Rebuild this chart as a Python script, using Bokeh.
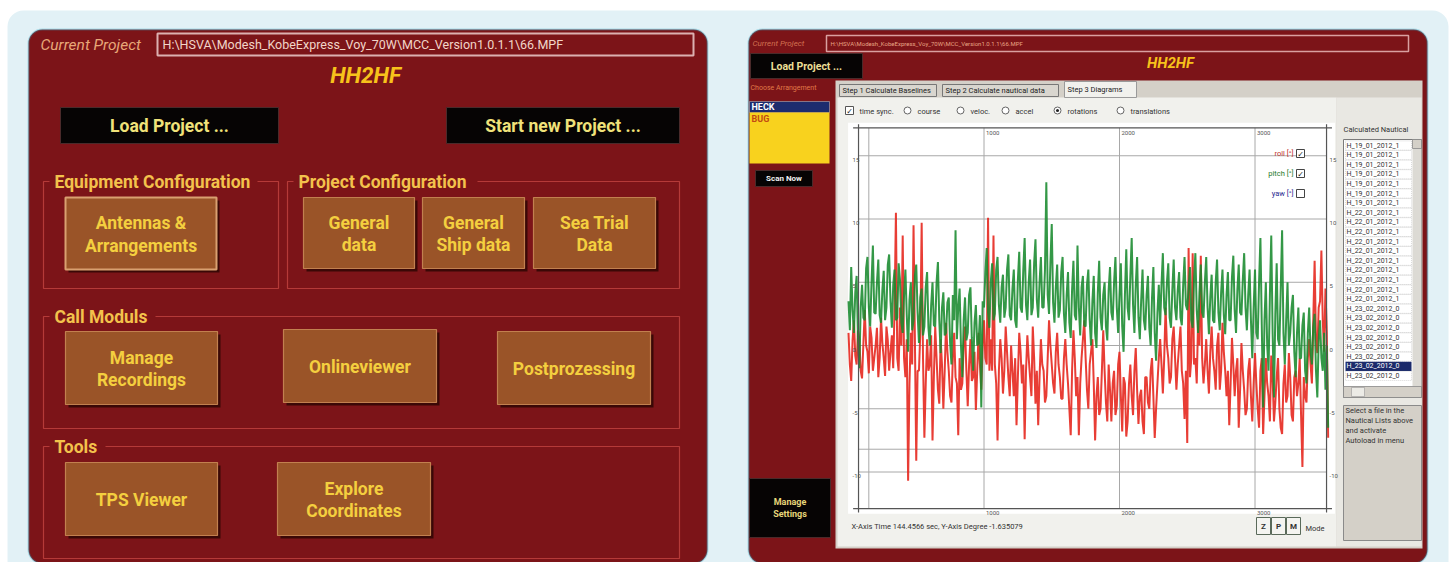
from bokeh.plotting import figure
from bokeh.models import Range1d, BoxAnnotation
from bokeh.core.properties import value
from bokeh.embed import file_html
from bokeh.resources import INLINE

# ---------------- data ----------------
SAMPLE_STEP_S = 10
time_s = list(range(0, 3541, SAMPLE_STEP_S))  # sample times of the recording

pitch_deg = [
    3.5, 1.2, 6.2, 2.8, 1.0, 4.2, 5.5, 0.6, -1.8, 3.0,
    4.8, 2.2, 2.0, 6.1, 7.0, 3.0, 1.5, 5.0, 7.9, 2.6,
    2.5, 5.0, 6.8, 2.4, 1.8, 4.4, 5.9, 2.0, 3.0, 6.4,
    7.2, 3.5, 1.4, 4.8, 6.0, 2.0, 2.2, 6.5, 5.2, 1.8,
    1.0, 4.0, 6.0, 2.4, -0.5, 3.6, 5.0, 1.2, 2.0, 5.5,
    6.4, 2.6, 0.2, 3.8, 4.5, 0.8, 1.5, 4.6, 5.8, 1.4,
    0.0, 3.2, 5.0, 1.6, 1.5, 5.0, 6.6, 2.0, -0.6, 3.0,
    4.2, 0.8, 1.0, 3.4, 3.8, 0.2, -1.5, 4.0, 2.0, 9.1,
    0.5, 3.0, 4.5, 0.0, -2.5, 2.0, 3.8, 0.4, 1.0, 4.0,
    4.6, 0.6, -2.0, 1.8, 3.2, 0.0, 0.2, 2.4, -4.9, 3.5,
    3.0, 5.8, 7.7, 2.6, 1.4, 5.0, 6.5, 2.0, 2.5, 6.0,
    7.0, 3.2, 1.8, 4.6, 5.6, 2.2, 3.0, 6.0, 7.2, 2.4,
    2.0, 4.5, 6.0, 2.0, 1.4, 5.2, 7.4, 3.0, 2.6, 6.0,
    8.5, 3.2, 2.0, 5.0, 6.8, 2.4, 3.0, 6.5, 8.4, 3.6,
    2.2, 5.0, 7.0, 3.0, 3.0, 6.0, 12.9, 4.0, 2.5, 6.5,
    9.6, 3.4, 1.8, 4.6, 6.4, 2.2, 2.8, 5.8, 7.0, 2.5,
    1.0, 4.0, 5.8, 1.8, 0.6, 4.4, 6.7, 2.4, 2.0, 7.9,
    3.0, 0.8, 4.6, 5.5, 1.6, 1.5, 4.8, 6.0, 2.0, 0.0,
    3.5, 5.5, 1.0, -0.2, 4.2, 6.7, 2.2, 1.2, 4.0, 5.0,
    1.5, 0.4, 4.4, 6.2, 2.6, 2.0, 5.0, 7.0, 3.0, 1.0,
    4.0, 6.5, 1.5, -0.5, 4.0, 7.6, 3.0, 2.0, 5.5, 8.5,
    3.2, 1.0, 4.8, 7.0, 2.2, 0.5, 3.6, 6.0, 2.0, 1.2,
    4.0, 5.5, 1.4, 0.0, 3.8, 6.2, 1.0, -1.2, 2.6, 4.8,
    1.6, 4.8, 7.3, 3.0, 2.4, 5.0, 6.5, 2.2, 1.4, 4.4,
    6.8, 3.0, 2.0, 4.4, 5.8, 2.2, 1.6, 4.8, 7.0, 3.2,
    2.8, 4.6, 6.2, 2.0, 1.4, 5.2, 7.3, 2.8, 1.0, 4.2,
    6.4, 2.6, 2.2, 5.0, 7.0, 3.0, 0.9, 3.8, 5.6, 2.0,
    1.8, 5.0, 6.8, 2.6, 1.2, 4.2, 6.0, 2.4, 0.9, 4.0,
    5.8, 2.0, 2.0, 5.4, 7.1, 2.8, 1.0, 4.4, 6.4, 2.6,
    2.4, 5.2, 7.3, 3.0, 1.2, 4.0, 6.0, 2.0, -1.0, 3.0,
    6.0, 1.0, 0.5, 5.0, 8.5, 1.6, -4.9, 2.0, 5.0, 0.0,
    -2.0, 4.0, 8.7, 1.0, -4.1, 2.5, 6.5, 0.5, 0.0, 4.5,
    9.1, 1.0, -1.5, 2.0, 5.0, 0.0, 1.0, 3.0, 4.0, -0.5,
    -2.5, 1.0, 3.0, -1.0, -1.0, 1.6, 2.6, -2.0, -3.0, 1.0,
    3.0, -0.5, -1.5, 1.5, 2.5, -2.0, -4.1, 0.5, 2.0, -1.0,
    -2.0, 1.0, -3.5, 0.0, -6.5,
]

roll_deg = [
    1.0, -1.5, -2.8, 0.4, 2.0, -0.8, -1.5, 1.2, 0.5, -2.0,
    -2.6, 0.2, 2.8, 0.0, -0.5, -2.2, 1.5, 0.6, -2.0, -1.0,
    0.0, 1.4, -2.5, -1.0, 2.2, 0.2, -1.0, -2.4, 1.5, 0.4,
    -2.0, -0.5, 0.8, -1.8, 3.0, 10.5, -1.0, -2.0, 3.0, 0.0,
    8.7, -1.0, -2.5, 0.5, -10.7, -3.0, 1.0, -1.5, 9.5, 0.5,
    -9.1, -2.0, -2.0, 1.0, 9.7, -1.0, -7.3, -3.0, 0.5, -2.0,
    -1.5, 0.8, -7.5, -2.5, 1.5, -1.0, -3.5, -4.6, 0.5, -1.5,
    -5.0, -2.0, 1.8, -0.5, -2.0, -4.0, -4.5, -1.0, 1.0, -2.5,
    -3.0, -7.1, -1.0, -3.5, -3.0, 0.0, 1.5, -2.0, -4.8, -1.5,
    0.5, -2.8, -2.5, -0.5, -5.1, -2.0, 1.0, -1.5, -3.5, 0.0,
    2.0, -1.0, -1.5, 10.1, -2.0, 0.5, -2.0, 8.7, -1.5, -3.0,
    -7.5, -2.0, 0.5, -1.0, -3.8, -2.0, 1.5, -0.5, -2.5, -4.0,
    0.0, -2.0, -4.0, -1.0, -6.3, -2.5, 1.0, -0.5, -3.0, -1.5,
    -7.4, -2.0, 0.8, -1.0, -2.5, -4.0, 1.5, -1.0, -4.6, -2.0,
    -6.3, -2.5, 0.5, -1.5, -2.0, -4.5, -4.0, -1.0, 2.0, 0.0,
    -1.5, -3.0, -3.8, -0.5, 1.0, -1.5, -2.5, -4.2, -4.2, -1.0,
    0.5, -1.5, -3.0, -5.0, -7.1, -2.0, 1.2, -1.0, -4.0, -2.5,
    -7.1, -3.0, -1.0, 0.5, 2.0, -1.0, -3.5, -5.0, -1.5, -0.5,
    0.5, -3.0, -7.5, -4.0, -2.5, -5.5, -5.0, -2.0, 1.2, -2.0,
    -4.5, -6.0, -1.5, -3.5, -6.0, -3.0, -2.0, -5.5, -4.8, -1.5,
    -0.5, -4.0, -6.8, -2.5, -3.0, -7.2, -6.0, -3.0, -1.5, -4.0,
    -5.5, -2.0, -0.2, -3.5, -6.2, -4.0, -3.5, -6.0, -7.0, -2.5,
    -2.5, -4.5, -5.0, -2.0, -1.0, -4.0, -7.3, -5.0, -3.0, -1.0,
    0.5, -1.5, -3.8, -1.0, 3.0, 0.0, -1.0, -3.0, -2.5, 0.5,
    1.5, -1.0, -3.5, -1.5, 0.0, 1.5, -2.0, -3.0, -5.8, -2.0,
    -7.7, 7.7, -2.5, -1.0, 7.3, -1.5, -1.0, -3.0, 2.0, 0.0,
    7.1, -1.0, -3.0, -1.5, 0.5, -2.0, -3.8, -0.5, 1.5, -1.0,
    -2.0, -3.5, 0.0, 1.0, -3.5, -2.0, 1.8, -0.5, -2.0, -4.0,
    -2.0, -6.3, -3.0, 0.6, -1.5, -4.0, -2.0, -1.0, -6.5, -3.5,
    0.2, -2.0, -3.5, -5.5, -5.0, -2.0, -1.0, -4.0, -6.0, -3.0,
    -0.6, -3.0, -5.0, -6.5, -2.0, -1.0, -7.0, -4.0, -1.0, -3.0,
    -4.0, -6.0, -0.8, -2.5, -6.0, -4.5, -2.5, -1.0, -5.0, -6.5,
    -7.0, -3.0, -1.5, -4.5, -4.0, -0.6, -2.5, -5.5, -6.0, -2.5,
    -2.0, -4.0, -3.0, -1.0, -5.5, -9.6, -2.5, -4.0, -4.5, -1.0,
    0.5, -1.5, -3.0, 2.0, 6.7, 0.5, -0.6, 3.0, 3.5, 7.5,
    2.0, -0.5, 4.5, 1.0, -7.3,
]

time_ticks = [1000, 2000, 3000]
time_tick_labels = ["1000", "2000", "3000"]
time_grid = [150, 1000, 2000, 3000]
deg_grid = [15, 10, 5, 0, -5, -8.2, -10]
deg_ticks = [15, 10, 5, 0, -5, -10]
deg_tick_labels = ["15", "10", "5", "0", "-5", "-10"]

legend_names = ["roll [\u00b0]", "pitch [\u00b0]", "yaw [\u00b0]"]
legend_checked = [True, True, False]

project_path = "H:\\HSVA\\Modesh_KobeExpress_Voy_70W\\MCC_Version1.0.1.1\\66.MPF"
nautical_files = (["H_19_01_2012_1"] * 7 + ["H_22_01_2012_1"] * 10 + ["H_23_02_2012_0"] * 8)
selected_file = 23
radio_labels = ["time sync.", "course", "veloc.", "accel", "rotations", "translations"]
tab_labels = ["Step 1 Calculate Baselines", "Step 2 Calculate nautical data", "Step 3 Diagrams"]

# ---------------- figure: one pixel per unit, screenshot coordinates ----------------
X0, Y0, W, H = 0, 0, 1454, 562
p = figure(width=W, height=H, x_range=Range1d(X0, X0 + W), y_range=Range1d(Y0 + H, Y0),
           output_backend="svg", toolbar_location=None, min_border=0,
           x_axis_location=None, y_axis_location=None)
p.grid.visible = False
p.outline_line_color = None
p.background_fill_color = "white"
p.border_fill_color = "white"

# chart coordinate system (time in s, angle in degrees) mapped onto the same frame
T0_PX, T_SCALE = 848.0, 0.1355      # px of t=0, px per second
V0_PX, V_SCALE = 345.0, 12.65       # px of 0 deg, px per degree
p.extra_x_ranges = {"t": Range1d((X0 - T0_PX) / T_SCALE, (X0 + W - T0_PX) / T_SCALE)}
p.extra_y_ranges = {"v": Range1d((V0_PX - (Y0 + H)) / V_SCALE, (V0_PX - Y0) / V_SCALE)}

FONT = value("Roboto")

RED = "#7c1418"
CYAN = "#22a9c6"


def panel(l, r, t, b, fill, line=None, lw=0, radius=0):
    p.add_layout(BoxAnnotation(left=l, right=r, top=t, bottom=b, fill_color=fill, fill_alpha=1,
                               line_color=line, line_width=lw, border_radius=radius, level="underlay"))


def box(l, r, t, b, fill, line=None, lw=1, **kw):
    p.quad(left=l, right=r, top=t, bottom=b, fill_color=fill, line_color=line, line_width=lw, **kw)


def txt(x, y, s, size, color, align="left", style="normal", font=FONT, baseline="middle", **kw):
    p.text(x=[x], y=[y], text=[s], text_font=font, text_font_size=f"{size}px", text_color=color,
           text_align=align, text_baseline=baseline, text_font_style=style, text_line_height=1.12, **kw)


def brown_button(l, r, t, b, label, highlight=False):
    box(l + 3, r + 3, t + 3, b + 3, "#3a0806", None)
    box(l, r, t, b, "#9a5428", "#d9a070" if highlight else "#c2804f", 2 if highlight else 1.2)
    txt((l + r) / 2, (t + b) / 2 + 1, label, 17.5, "#f4cf3f", align="center", style="bold")


def black_button(l, r, t, b, label, size, color):
    box(l, r, t, b, "#060404", "#4a2a2a", 1)
    txt((l + r) / 2, (t + b) / 2, label, size, color, align="center", style="bold")


def group(l, r, t, b, label, label_w):
    box(l, r, t, b, None, "#b53a38", 1.2, fill_alpha=0)
    box(l + 6, l + 14 + label_w, t - 9, t + 9, RED, None)
    txt(l + 11, t, label, 17.5, "#f3c24c", style="bold")


# background and panels
panel(7, 1448, 10, 700, "#e2f1f6", radius=16)
panel(28, 707, 29, 563, RED, CYAN, 2, 14)
panel(748, 1427, 29, 563, RED, CYAN, 2, 14)

# ---------------- left panel ----------------
txt(40, 44, "Current Project", 15.5, "#e8a878", style="italic")
box(157, 693, 33, 55, RED, "#dcb0b0", 2)
txt(162, 44, project_path, 12.5, "#f2d6c8")
txt(365, 74, "HH2HF", 22.5, "#f7c21b", align="center", style="bold italic")
black_button(60, 278, 107, 143, "Load Project ...", 17.5, "#f0e27a")
black_button(446, 679, 107, 143, "Start new Project ...", 17.5, "#f0e27a")

group(43, 278, 181, 288, "Equipment Configuration", 200)
group(287, 679, 181, 288, "Project Configuration", 176)
group(43, 679, 316, 428, "Call Moduls", 98)
group(43, 679, 446, 558, "Tools", 48)

brown_button(65, 216, 197, 269, "Antennas &\nArrangements", highlight=True)
brown_button(303, 414, 197, 268, "General\ndata")
brown_button(422, 524, 197, 268, "General\nShip data")
brown_button(533, 655, 197, 268, "Sea Trial\nData")
brown_button(65, 217, 331, 404, "Manage\nRecordings")
brown_button(283, 436, 329, 402, "Onlineviewer")
brown_button(497, 650, 331, 404, "Postprozessing")
brown_button(65, 217, 462, 535, "TPS Viewer")
brown_button(277, 430, 462, 535, "Explore\nCoordinates")

# ---------------- right panel ----------------
txt(752, 43, "Current Project", 8, "#d27050", style="italic")
box(826, 1408, 35, 51, RED, "#d9a0a0", 1.5)
txt(830, 43, project_path, 6, "#e9a585")
black_button(750, 862, 53, 78, "Load Project ...", 10.5, "#ecdf96")
txt(1170, 62, "HH2HF", 15, "#f7c21b", align="center", style="bold italic")

# left column
txt(750, 87, "Choose Arrangement", 7, "#e07a48")
box(749, 829, 101, 112, "#1d2c6e", "#c8c8c8", 0.5)
txt(751, 106.5, "HECK", 9, "white", style="bold")
box(749, 829, 112, 163, "#f8d21e", None)
txt(751, 118, "BUG", 9, "#c24a12", style="bold")
black_button(755, 812, 170, 186, "Scan Now", 8, "#f0f0f0")
black_button(749, 830, 478, 537, "Manage\nSettings", 9, "#e6d67a")

# gray work area and tabs
box(835, 1422, 80, 548, "#d4d0c8", None)
box(837, 1336, 97, 546, "#f1f1ed", None)
box(1336, 1421, 97, 546, "#e9e8e3", None)
tab_x = [(839, 936), (942, 1058), (1064, 1136)]
for i, (a, b) in enumerate(tab_x):
    if i == 2:
        box(a, b, 81, 97, "#f1f1ed", "#9a9a9a", 1)
    else:
        box(a, b, 84, 96, "#d9d6cf", "#777777", 1)
    txt(a + 3, 90 if i < 2 else 89, tab_labels[i], 7.5, "#222222")

# radio / check row
radio_x = [849, 907, 960, 1005, 1057, 1120]
for i, (rx, lab) in enumerate(zip(radio_x, radio_labels)):
    if i == 0:
        p.scatter([rx], [110], marker="square", size=8, fill_color="white", line_color="#555555")
        txt(rx, 110.5, "\u2713", 8, "#222222", align="center", font=value("DejaVu Sans"))
    else:
        p.scatter([rx], [110], marker="circle", size=7, fill_color="white", line_color="#666666")
        if lab == "rotations":
            p.scatter([rx], [110], marker="circle", size=3, fill_color="#222222", line_color=None)
    txt(rx + 10, 110.5, lab, 7.5, "#333333")

# ---------------- chart (drawn in time / degree units) ----------------
T_AX = (74, 3528)      # axis box extent in s
V_AX = (17.2, -12.9)   # axis box extent in deg
R = dict(x_range_name="t", y_range_name="v")
p.quad(left=[-3], right=[3590], top=[17.6], bottom=[-13.3], fill_color="white", line_color=None, **R)
p.segment(x0=time_grid, x1=time_grid, y0=[V_AX[0]] * len(time_grid), y1=[V_AX[1]] * len(time_grid),
          line_color="#a8a8a8", line_width=1, **R)
p.segment(x0=[T_AX[0]] * len(deg_grid), x1=[T_AX[1]] * len(deg_grid), y0=deg_grid, y1=deg_grid,
          line_color="#a8a8a8", line_width=1, **R)

p.line(time_s, roll_deg, line_color="#e6281f", line_width=2.0, line_alpha=0.9, **R)
p.line(time_s, pitch_deg, line_color="#188a2e", line_width=2.0, line_alpha=0.88, **R)

# axis box
p.segment(x0=[T_AX[0], T_AX[1], T_AX[0] - 40, T_AX[0] - 40],
          x1=[T_AX[0], T_AX[1], T_AX[1] + 40, T_AX[1] + 40],
          y0=[V_AX[0] + 0.3, V_AX[0] + 0.3, V_AX[0], V_AX[1]],
          y1=[V_AX[1] - 0.3, V_AX[1] - 0.3, V_AX[0], V_AX[1]],
          line_color="#555555", line_width=1.2, **R)
p.text(x=time_ticks, y=[V_AX[0] - 0.25] * 3, text=time_tick_labels, text_font=FONT, text_font_size="6px",
       text_color="#555555", text_baseline="top", text_align="left", x_offset=2, **R)
p.text(x=time_ticks, y=[V_AX[1] - 0.2] * 3, text=time_tick_labels, text_font=FONT, text_font_size="6px",
       text_color="#555555", text_baseline="top", text_align="left", x_offset=2, **R)
p.text(x=[T_AX[0]] * len(deg_ticks), y=deg_ticks, text=deg_tick_labels, text_font=FONT, text_font_size="6px",
       text_color="#555555", text_baseline="top", text_align="left", x_offset=-6, y_offset=2, **R)
p.text(x=[T_AX[1]] * len(deg_ticks), y=deg_ticks, text=deg_tick_labels, text_font=FONT, text_font_size="6px",
       text_color="#555555", text_baseline="top", text_align="left", x_offset=3, y_offset=2, **R)

# in-chart legend
leg_colors = ["#c0302a", "#1d7a2a", "#2a2a90"]
for i, (nm, ck, col) in enumerate(zip(legend_names, legend_checked, leg_colors)):
    ly = 153 + 20 * i
    txt(1293, ly, nm, 7.5, col, align="right")
    p.scatter([1300], [ly], marker="square", size=8, fill_color="white", line_color="#444444")
    if ck:
        txt(1300, ly + 0.5, "\u2713", 8, "#222222", align="center", font=value("DejaVu Sans"))

txt(851, 526, "X-Axis Time 144.4566 sec, Y-Axis Degree -1.635079", 7.5, "#333333")
for i, lab in enumerate(["Z", "P", "M"]):
    a = 1256 + 15 * i
    box(a, a + 14, 517, 534, "#f4f4f0", "#5a6a5a", 1)
    txt(a + 7, 525.5, lab, 8, "#333333", align="center", style="bold")
txt(1305, 528, "Mode", 7.5, "#333333")

# ---------------- right list column ----------------
txt(1343, 129, "Calculated Nautical", 7.5, "#333333")
box(1343, 1421, 139, 397, "white", "#7a7a7a", 1)
box(1412, 1421, 148, 386, "#dcdad4", None)
box(1412, 1421, 139, 148, "#d4d0c8", "#888888", 0.8)
box(1343, 1421, 386, 397, "#d4d0c8", "#888888", 0.8)
box(1351, 1364, 387, 396, "#ecebe6", "#999999", 0.6)
for i, fname in enumerate(nautical_files):
    ry = 145 + i * 9.6
    if i == selected_file:
        box(1345, 1411, ry - 4.6, ry + 4.6, "#1b2a6b", None)
        txt(1346, ry, fname, 7, "white")
    else:
        txt(1346, ry, fname, 7, "#333333")
        box(1345, 1411, ry - 4.6, ry + 4.6, None, "#b0b0b0", 0.5, fill_alpha=0, line_dash="1 1")
box(1343, 1421, 405, 540, "#d4d0c8", "#8a8a8a", 1)
txt(1345, 425, "Select a file in the\nNautical Lists above\nand activate\nAutoload in menu", 7.5, "#333333")

open("out.html", "w").write(file_html(p, INLINE))
